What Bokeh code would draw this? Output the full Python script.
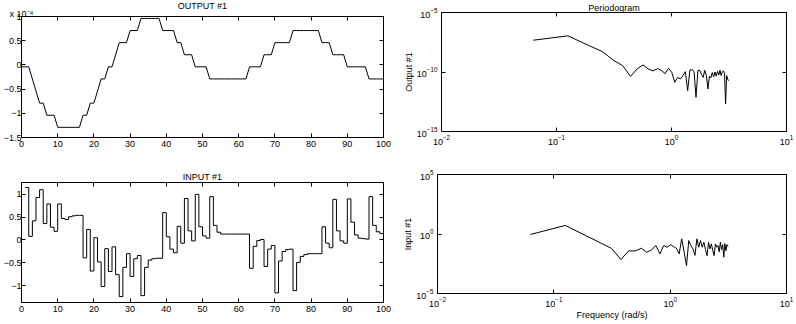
import math
from bokeh.plotting import figure
from bokeh.models import (FixedTicker, LinearAxis, Range1d, CustomJSTickFormatter)
from bokeh.embed import file_html
from bokeh.resources import INLINE

# ---------------- data ----------------
time_out = list(range(0, 101))
output_e4 = [  # OUTPUT #1, in units of 1e-4
    -0.04, -0.04, -0.04, -0.29, -0.54, -0.79, -0.79, -1.04, -1.04, -1.04,
    -1.29, -1.29, -1.29, -1.29, -1.29, -1.29, -1.29, -1.04, -1.04, -0.79,
    -0.79, -0.54, -0.29, -0.29, -0.04, -0.04, 0.21, 0.46, 0.46, 0.46,
    0.71, 0.71, 0.71, 0.96, 0.96, 0.96, 0.96, 0.96, 0.96, 0.71,
    0.71, 0.71, 0.71, 0.46, 0.46, 0.21, 0.21, 0.21, -0.04, -0.04,
    -0.04, -0.04, -0.29, -0.29, -0.29, -0.29, -0.29, -0.29, -0.29, -0.29,
    -0.29, -0.29, -0.29, -0.04, -0.04, -0.04, -0.04, 0.21, 0.21, 0.21,
    0.46, 0.46, 0.46, 0.46, 0.46, 0.71, 0.71, 0.71, 0.71, 0.71,
    0.71, 0.71, 0.71, 0.46, 0.46, 0.46, 0.21, 0.21, 0.21, 0.21,
    -0.04, -0.04, -0.04, -0.04, -0.04, -0.04, -0.29, -0.29, -0.29, -0.29,
    -0.29,
]

time_in = list(range(1, 101))
input_vals = [  # INPUT #1, held from t to t+1 (t = 1..99)
    1.15, 0.08, 0.42, 0.93, 1.10, 0.36, 0.79, 0.28, 0.19, 0.79,
    0.47, 0.45, 0.51, 0.53, 0.54, 0.54, -0.39, 0.23, -0.68, 0.05,
    -0.48, -1.02, -0.19, -0.69, -0.15, -0.76, -1.24, -0.60, -0.30, -0.80,
    -0.41, -0.34, -1.22, -0.60, -0.44, -0.41, -0.40, -0.40, 0.60, 0.07,
    -0.20, -0.28, 0.30, -0.07, 0.91, 0.20, -0.02, 1.00, 0.29, 0.09,
    0.04, 0.95, 0.32, 0.17, 0.13, 0.13, 0.13, 0.13, 0.13, 0.13,
    0.13, 0.13, -0.62, -0.14, -0.01, 0.01, -0.58, -0.20, -0.12, -1.16,
    -0.46, -0.25, -0.21, -0.20, -1.11, -0.49, -0.36, -0.32, -0.30, -0.30,
    -0.30, -0.30, 0.29, -0.07, -0.17, 0.89, 0.20, -0.02, -0.07, 0.90,
    0.39, 0.11, 0.04, 0.03, 0.02, 0.95, 0.32, 0.18, 0.14,
]

freq_index = list(range(1, 51))  # frequency = 2*pi*k/100 rad/s
output_psd_log10 = [
    -7.33, -6.96, -7.75, -8.29, -9.03, -9.47, -10.37, -9.74, -9.41, -9.74,
    -9.91, -9.72, -9.86, -10.14, -9.69, -10.03, -10.87, -10.45, -10.59, -10.31,
    -9.97, -11.57, -9.83, -9.80, -9.95, -12.13, -9.89, -9.85, -10.20, -10.45,
    -9.85, -10.30, -11.43, -10.35, -10.50, -10.05, -10.40, -10.00, -10.35, -9.95,
    -10.25, -9.85, -10.30, -10.00, -9.90, -10.10, -12.69, -10.30, -10.60, -10.73,
]
input_psd_log10 = [
    -0.04, 0.72, -0.14, -0.74, -1.22, -2.15, -1.42, -1.42, -1.20, -1.54,
    -1.33, -0.97, -1.67, -0.97, -1.11, -0.90, -1.05, -1.20, -1.67, -0.41,
    -1.54, -2.66, -0.55, -0.97, -1.25, -1.80, -0.41, -1.11, -0.55, -1.11,
    -0.69, -1.30, -1.82, -0.69, -1.25, -0.83, -1.40, -1.82, -0.83, -1.11,
    -0.97, -1.50, -0.69, -1.30, -0.90, -1.95, -0.80, -1.40, -0.90, -1.06,
]

time_ticks = [0, 10, 20, 30, 40, 50, 60, 70, 80, 90, 100]
output_ticks = [-1.5, -1, -0.5, 0, 0.5, 1]
input_ticks = [-1, -0.5, 0, 0.5, 1]
freq_ticks = [1e-2, 1e-1, 1e0, 1e1]
output_psd_ticks = [1e-15, 1e-10, 1e-5]
input_psd_ticks = [1e-5, 1e0, 1e5]

# ---------------- style ----------------
FONT = "Liberation Sans"
FS = "9px"

num_fmt = CustomJSTickFormatter(code="return String(tick).replace('-', '\u2212');")


def style(p, xticks, yticks, log=False, ylab_standoff=2):
    p.outline_line_color = "black"
    p.outline_line_alpha = 1.0
    p.outline_line_width = 1
    p.background_fill_color = "white"
    p.border_fill_color = "white"
    p.xgrid.visible = False
    p.ygrid.visible = False
    xa, ya = p.below[0], p.left[0]
    for ax, t in ((xa, xticks), (ya, yticks)):
        ax.ticker = FixedTicker(ticks=t)
        ax.major_tick_in = 4
        ax.major_tick_out = 0
        ax.minor_tick_line_color = None
        ax.axis_line_color = None
        ax.major_tick_line_color = "black"
        ax.major_label_text_font = FONT
        ax.major_label_text_font_size = FS
        ax.major_label_text_color = "black"
        ax.axis_label_text_font = FONT
        ax.axis_label_text_font_size = FS
        ax.axis_label_text_font_style = "normal"
        ax.axis_label_text_color = "black"
        ax.axis_label_standoff = 0
        if not log:
            ax.formatter = num_fmt
    xa.major_label_standoff = 3
    ya.major_label_standoff = ylab_standoff
    # tick marks on the top and right edges of the frame (no labels)
    extra = []
    for side, t in (("above", xticks), ("right", yticks)):
        a = LinearAxis(ticker=FixedTicker(ticks=t), major_tick_in=4, major_tick_out=0,
                       minor_tick_line_color=None, axis_line_color=None,
                       major_label_text_alpha=0, major_label_text_font_size="1px",
                       major_label_standoff=0)
        p.add_layout(a, side)
        extra.append(a)
    p.title.text_font = FONT
    p.title.text_font_size = FS
    p.title.text_font_style = "normal"
    p.title.text_color = "black"
    p.title.align = "center"
    p.title.standoff = 2
    return xa, ya, extra[0]


# OUTPUT #1
p1 = figure(width=400, height=160, output_backend="svg", toolbar_location=None,
            x_range=Range1d(0, 100), y_range=Range1d(-1.5, 1.0), title="OUTPUT #1",
            min_border_left=19, min_border_right=17, min_border_top=16, min_border_bottom=23)
_, _, top1 = style(p1, time_ticks, output_ticks, ylab_standoff=0)
# scale factor of the output axis, shown at the top-left corner
top1.axis_label = "x 10\u207b\u2074"
top1.axis_label_align = "start"
top1.axis_label_standoff = -2
top1.axis_label_text_font = FONT
top1.axis_label_text_font_size = FS
top1.axis_label_text_font_style = "normal"
top1.axis_label_text_color = "black"
p1.title.standoff = -11
p1.line(time_out, output_e4, line_color="black", line_width=1)

# INPUT #1
p3 = figure(width=400, height=164, output_backend="svg", toolbar_location=None,
            x_range=Range1d(0, 100), y_range=Range1d(-1.37, 1.26), title="INPUT #1",
            min_border_left=19, min_border_right=17, min_border_top=22, min_border_bottom=22)
style(p3, time_ticks, input_ticks, ylab_standoff=0)
p3.step(time_in, input_vals + [input_vals[-1]], mode="after", line_color="black", line_width=1)

freq = [2 * math.pi * k / 100 for k in freq_index]

# Periodogram, output
p2 = figure(width=396, height=160, output_backend="svg", toolbar_location=None,
            x_axis_type="log", y_axis_type="log",
            x_range=Range1d(1e-2, 1e1), y_range=Range1d(1e-15, 1e-5), title="Periodogram",
            min_border_left=30, min_border_right=10, min_border_top=12, min_border_bottom=29)
xa2, ya2, _ = style(p2, freq_ticks, output_psd_ticks, log=True, ylab_standoff=4)
p2.title.standoff = 0
ya2.axis_label = "Output #1"
p2.line(freq, [10 ** v for v in output_psd_log10], line_color="black", line_width=1)

# Periodogram, input
p4 = figure(width=396, height=164, output_backend="svg", toolbar_location=None,
            x_axis_type="log", y_axis_type="log",
            x_range=Range1d(1e-2, 1e1), y_range=Range1d(1e-5, 1e5),
            min_border_left=30, min_border_right=10, min_border_top=14, min_border_bottom=31)
xa4, ya4, _ = style(p4, freq_ticks, input_psd_ticks, log=True, ylab_standoff=4)
ya4.axis_label = "Input #1"
xa4.axis_label = "Frequency (rad/s)"
p4.line(freq, [10 ** v for v in input_psd_log10], line_color="black", line_width=1)

# four independent panels laid out in a 2x2 flow (no frame alignment between them)
template = """
{% block postamble %}
<style>
html, body { margin: 0; padding: 0; }
body { display: flex; flex-wrap: wrap; width: 796px; height: auto; align-items: flex-start; }
</style>
{% endblock %}
"""
open("out.html", "w").write(file_html([p1, p2, p3, p4], INLINE, template=template))
